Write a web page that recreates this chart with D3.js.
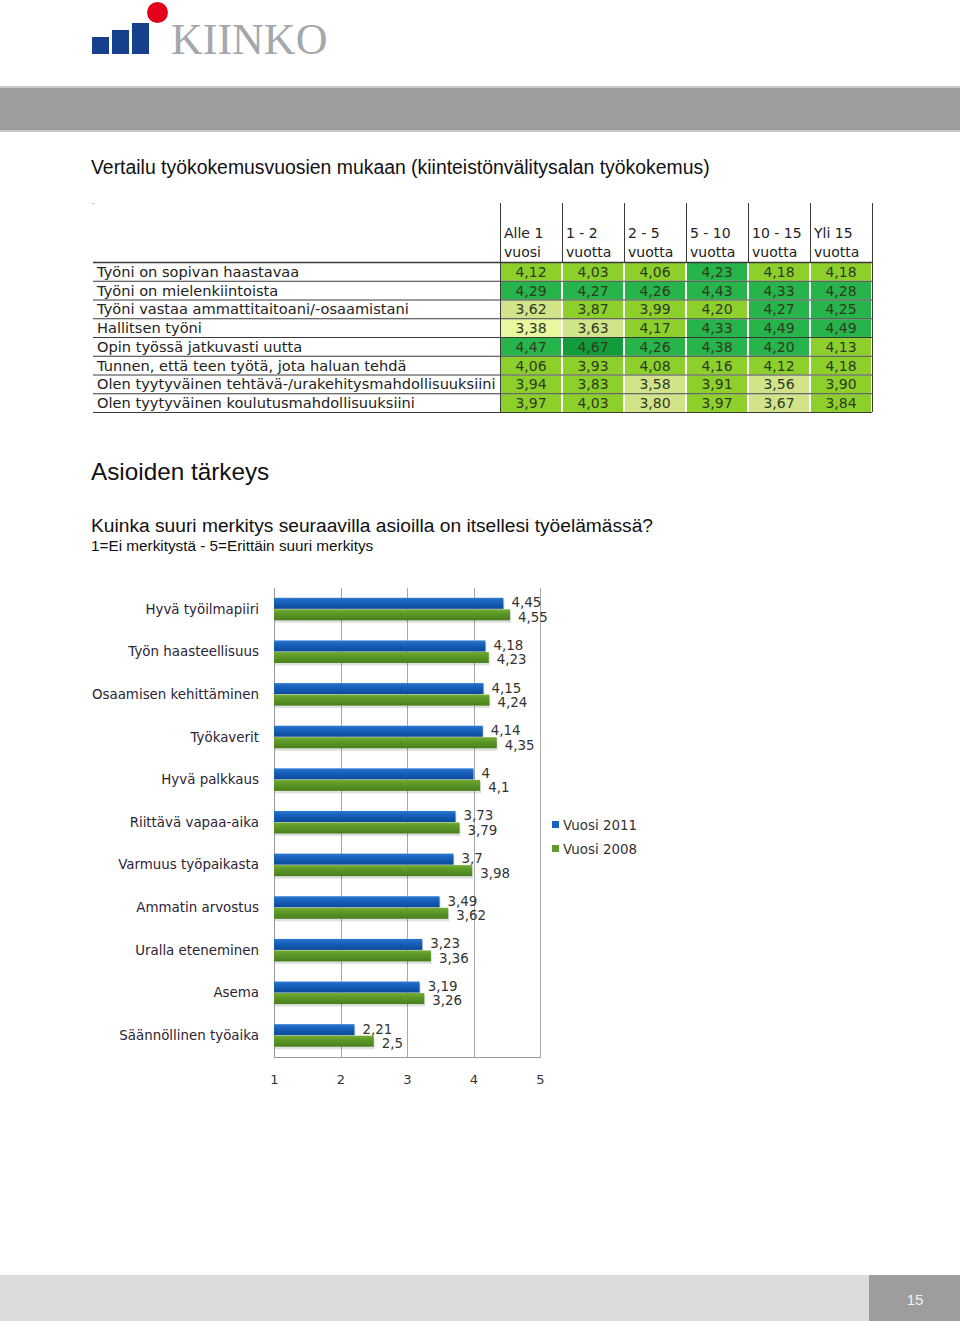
<!DOCTYPE html>
<html>
<head>
<meta charset="utf-8">
<script src="https://cdn.jsdelivr.net/npm/d3@7"></script>
<style>
  body { margin: 0; background: #fff; }
  svg { display: block; }
</style>
</head>
<body>
<svg id="page" width="960" height="1321"></svg>
<script>
// ---- table data ----
const tableRows = [
  "Työni on sopivan haastavaa",
  "Työni on mielenkiintoista",
  "Työni vastaa ammattitaitoani/-osaamistani",
  "Hallitsen työni",
  "Opin työssä jatkuvasti uutta",
  "Tunnen, että teen työtä, jota haluan tehdä",
  "Olen tyytyväinen tehtävä-/urakehitysmahdollisuuksiini",
  "Olen tyytyväinen koulutusmahdollisuuksiini"
];
const tableHead1 = ["Alle 1", "1 - 2", "2 - 5", "5 - 10", "10 - 15", "Yli 15"];
const tableHead2 = ["vuosi", "vuotta", "vuotta", "vuotta", "vuotta", "vuotta"];
const colAlle1 = [4.12, 4.29, 3.62, 3.38, 4.47, 4.06, 3.94, 3.97];
const col1to2  = [4.03, 4.27, 3.87, 3.63, 4.67, 3.93, 3.83, 4.03];
const col2to5  = [4.06, 4.26, 3.99, 4.17, 4.26, 4.08, 3.58, 3.80];
const col5to10 = [4.23, 4.43, 4.198, 4.33, 4.38, 4.16, 3.91, 3.97];
const col10to15 = [4.18, 4.33, 4.27, 4.49, 4.204, 4.12, 3.56, 3.67];
const colYli15 = [4.18, 4.28, 4.25, 4.49, 4.13, 4.18, 3.90, 3.84];
const tableCols = [colAlle1, col1to2, col2to5, col5to10, col10to15, colYli15];

// ---- bar chart data ----
const categories = [
  "Hyvä työilmapiiri", "Työn haasteellisuus", "Osaamisen kehittäminen", "Työkaverit",
  "Hyvä palkkaus", "Riittävä vapaa-aika", "Varmuus työpaikasta", "Ammatin arvostus",
  "Uralla eteneminen", "Asema", "Säännöllinen työaika"
];
const vuosi2011 = [4.45, 4.18, 4.15, 4.14, 4, 3.73, 3.7, 3.49, 3.23, 3.19, 2.21];
const vuosi2008 = [4.55, 4.23, 4.24, 4.35, 4.1, 3.79, 3.98, 3.62, 3.36, 3.26, 2.5];
const seriesNames = ["Vuosi 2011", "Vuosi 2008"];
const xTicks = [1, 2, 3, 4, 5];

const svg = d3.select("#page");
const sans = "'Liberation Sans', Arial, sans-serif";
const verd = "'DejaVu Sans', Verdana, sans-serif";

// ---- header ----
svg.append("rect").attr("x", 0).attr("y", 86).attr("width", 960).attr("height", 46).attr("fill", "#c9c9ca");
svg.append("rect").attr("x", 0).attr("y", 88).attr("width", 960).attr("height", 42).attr("fill", "#9d9d9f");
const logo = svg.append("g").attr("class", "logo");
[[92, 37], [112, 30], [132, 23]].forEach(([x, y]) => {
  logo.append("rect").attr("x", x).attr("y", y).attr("width", 17).attr("height", 54 - y).attr("fill", "#163f8c");
});
logo.append("circle").attr("cx", 157.5).attr("cy", 12.5).attr("r", 10.5).attr("fill", "#e2001a");
logo.append("text").attr("x", 171).attr("y", 54)
  .style("font-family", "'Liberation Serif', 'DejaVu Serif', serif").style("font-size", "44px")
  .attr("fill", "#a3a8ac").text("KIINKO");

// ---- headings ----
svg.append("text").attr("x", 91).attr("y", 174).style("font-family", sans).style("font-size", "19.4px")
  .attr("fill", "#111").text("Vertailu työkokemusvuosien mukaan (kiinteistönvälitysalan työkokemus)");
svg.append("text").attr("x", 92).attr("y", 204).style("font-family", sans).style("font-size", "8px")
  .attr("fill", "#333").text(".");

// ---- table ----
const tX0 = 93, tLabelEnd = 500, colW = 62, rowTop = 262, rowH = 18.75;
const colX = d3.scaleBand().domain(d3.range(6)).range([tLabelEnd, tLabelEnd + 6 * colW]);
const rowY = d3.scaleBand().domain(d3.range(tableRows.length)).range([rowTop, rowTop + rowH * tableRows.length]);
const cellColor = d3.scaleThreshold()
  .domain([3.5, 3.82, 4.2, 4.6])
  .range(["#e8f7a0", "#d1e48a", "#8dd02c", "#27b44b", "#139c3b"]);
const fmt = v => v.toFixed(2).replace(".", ",");

const table = svg.append("g").attr("class", "table");
tableCols.forEach((col, c) => {
  table.selectAll(`.cell${c}`).data(col).join("rect")
    .attr("x", colX(c) + 1).attr("y", (d, i) => rowY(i) + 1)
    .attr("width", colX.bandwidth() - 2).attr("height", rowY.bandwidth() - 1)
    .attr("fill", d => cellColor(d));
  table.selectAll(`.val${c}`).data(col).join("text")
    .attr("x", colX(c) + colX.bandwidth() / 2).attr("y", (d, i) => rowY(i) + rowY.bandwidth() - 4)
    .attr("text-anchor", "middle").style("font-family", verd).style("font-size", "14px")
    .attr("fill", "#2f3a22").text(d => fmt(d));
});
table.selectAll(".rowline").data(d3.range(tableRows.length + 1)).join("line")
  .attr("x1", tX0).attr("x2", tLabelEnd + 6 * colW)
  .attr("y1", i => rowTop + i * rowH + 0.5).attr("y2", i => rowTop + i * rowH + 0.5)
  .attr("stroke", "#3a3a3a").attr("stroke-width", (d, i) => i === 0 ? 1.5 : 1);
table.selectAll(".colline").data(d3.range(7)).join("line")
  .attr("x1", i => tLabelEnd + i * colW + 0.5).attr("x2", i => tLabelEnd + i * colW + 0.5)
  .attr("y1", 203).attr("y2", i => (i === 0 || i === 6) ? rowTop + rowH * tableRows.length : rowTop)
  .attr("stroke", "#3a3a3a");
table.selectAll(".rowlabel").data(tableRows).join("text")
  .attr("x", 97).attr("y", (d, i) => rowY(i) + rowY.bandwidth() - 4)
  .style("font-family", verd).style("font-size", "14.6px").attr("fill", "#222").text(d => d);
[tableHead1, tableHead2].forEach((h, k) => {
  table.selectAll(`.head${k}`).data(h).join("text")
    .attr("x", (d, i) => colX(i) + 4).attr("y", 238 + k * 19)
    .style("font-family", verd).style("font-size", "14px").attr("fill", "#222").text(d => d);
});

// ---- section headings ----
svg.append("text").attr("x", 91).attr("y", 480).style("font-family", sans).style("font-size", "24.3px")
  .attr("fill", "#111").text("Asioiden tärkeys");
svg.append("text").attr("x", 91).attr("y", 532).style("font-family", sans).style("font-size", "19.2px")
  .attr("fill", "#111").text("Kuinka suuri merkitys seuraavilla asioilla on itsellesi työelämässä?");
svg.append("text").attr("x", 91).attr("y", 551).style("font-family", sans).style("font-size", "15.3px")
  .attr("fill", "#111").text("1=Ei merkitystä - 5=Erittäin suuri merkitys");

// ---- bar chart ----
const plot = {left: 274, right: 540, top: 588, bottom: 1057};
const x = d3.scaleLinear().domain([1, 5]).range([plot.left, plot.right]);
const y = d3.scaleBand().domain(categories).range([plot.top, plot.bottom]).paddingInner(0.46).paddingOuter(0.23);
const ySub = d3.scaleBand().domain(seriesNames).range([0, y.bandwidth()]);

const defs = svg.append("defs");
function grad(id, stops) {
  const g = defs.append("linearGradient").attr("id", id).attr("x1", 0).attr("x2", 0).attr("y1", 0).attr("y2", 1);
  stops.forEach(([o, c]) => g.append("stop").attr("offset", o).attr("stop-color", c));
}
grad("gBlue", [[0, "#2d78d0"], [0.35, "#1862bd"], [1, "#0b4a9a"]]);
grad("gGreen", [[0, "#74ad36"], [0.35, "#5e9a28"], [1, "#47801b"]]);
const seriesFill = {"Vuosi 2011": "url(#gBlue)", "Vuosi 2008": "url(#gGreen)"};
const legendColor = {"Vuosi 2011": "#1a63bd", "Vuosi 2008": "#5f9a2a"};

const chart = svg.append("g").attr("class", "chart");
chart.selectAll(".grid").data(xTicks.slice(1)).join("line")
  .attr("x1", d => Math.round(x(d)) + 0.5).attr("x2", d => Math.round(x(d)) + 0.5)
  .attr("y1", plot.top).attr("y2", plot.bottom).attr("stroke", "#a8a8a8");
chart.append("line").attr("x1", plot.left + 0.5).attr("x2", plot.left + 0.5)
  .attr("y1", plot.top).attr("y2", plot.bottom).attr("stroke", "#9a9a9a");
chart.append("line").attr("x1", plot.left).attr("x2", plot.right + 1)
  .attr("y1", plot.bottom + 0.5).attr("y2", plot.bottom + 0.5).attr("stroke", "#9a9a9a");

const xAxis = chart.append("g").attr("transform", `translate(0,${plot.bottom + 15})`)
  .call(d3.axisBottom(x).tickValues(xTicks).tickSize(0).tickFormat(d3.format("d")));
xAxis.select(".domain").remove();
xAxis.selectAll("text").style("font-family", verd).style("font-size", "13px").attr("fill", "#333");

const yAxis = chart.append("g").attr("transform", `translate(${plot.left - 15},0)`)
  .call(d3.axisLeft(y).tickSize(0).tickPadding(0));
yAxis.select(".domain").remove();
yAxis.selectAll("text").style("font-family", verd).style("font-size", "13.4px").attr("fill", "#2b2433");

const seriesData = [vuosi2011, vuosi2008];
seriesNames.forEach((s, k) => {
  const vals = seriesData[k];
  chart.selectAll(`.shadow${k}`).data(vals).join("rect")
    .attr("x", x(1) + 1).attr("y", (d, i) => y(categories[i]) + ySub(s) + 2)
    .attr("width", d => x(d) - x(1)).attr("height", ySub.bandwidth())
    .attr("fill", "#000").attr("opacity", 0.12);
  chart.selectAll(`.bar${k}`).data(vals).join("rect")
    .attr("x", x(1)).attr("y", (d, i) => y(categories[i]) + ySub(s))
    .attr("width", d => x(d) - x(1)).attr("height", ySub.bandwidth() - 0.5)
    .attr("fill", seriesFill[s]);
  chart.selectAll(`.lab${k}`).data(vals).join("text")
    .attr("x", d => x(d) + 8)
    .attr("y", (d, i) => y(categories[i]) + ySub(s) + ySub.bandwidth() / 2 + (k === 0 ? -1 : 2))
    .attr("dy", "0.35em")
    .style("font-family", verd).style("font-size", "13.4px").attr("fill", "#333")
    .text(d => String(d).replace(".", ","));
});

const legend = chart.append("g").attr("transform", "translate(552,825)");
seriesNames.forEach((s, k) => {
  legend.append("rect").attr("x", 0).attr("y", k * 24 - 4).attr("width", 7).attr("height", 7).attr("fill", legendColor[s]);
  legend.append("text").attr("x", 11).attr("y", k * 24).attr("dy", "0.35em")
    .style("font-family", verd).style("font-size", "13.4px").attr("fill", "#333").text(s);
});

// ---- footer ----
svg.append("rect").attr("x", 0).attr("y", 1275).attr("width", 960).attr("height", 46).attr("fill", "#dcdcdd");
svg.append("rect").attr("x", 869).attr("y", 1275).attr("width", 91).attr("height", 46).attr("fill", "#9d9d9f");
svg.append("text").attr("x", 915).attr("y", 1305).attr("text-anchor", "middle")
  .style("font-family", sans).style("font-size", "15px").attr("fill", "#f2f2f2").text("15");
</script>
</body>
</html>
